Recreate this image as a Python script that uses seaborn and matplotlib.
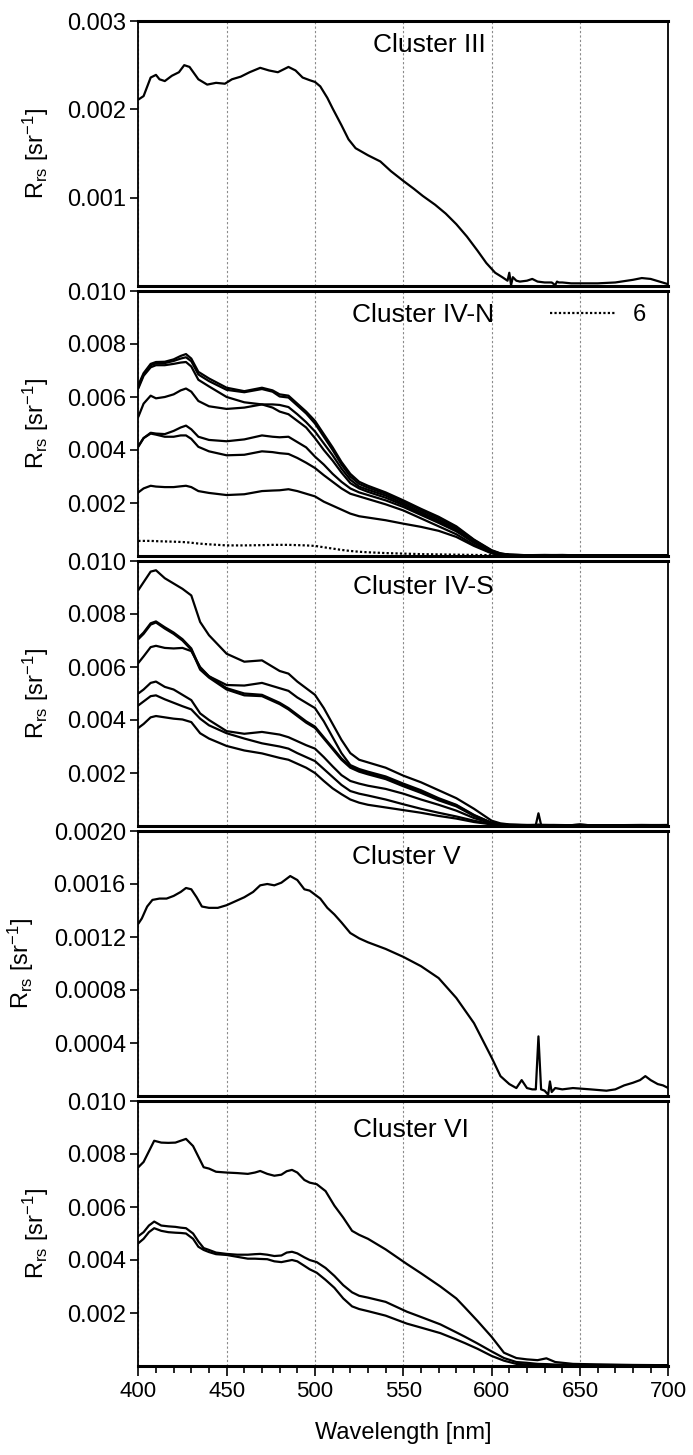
import numpy as np
import matplotlib
matplotlib.use('Agg')
import matplotlib.pyplot as plt
import seaborn as sns
from matplotlib.ticker import FormatStrFormatter, MultipleLocator

# Rrs values below are in units of 1e-3 sr^-1

# Cluster III
wl_3 = [400, 403, 407, 410, 412, 415, 419, 423, 426, 429, 434, 439, 444, 449, 453, 458, 463, 469, 474, 479,
        485, 489, 493, 497, 500, 503, 507, 510, 515, 519, 523, 530, 537, 543, 550, 556, 561, 568, 574, 580,
        586, 592, 597, 602, 606, 609, 610, 611, 612, 614, 616, 620, 623, 626, 630, 634, 636, 637, 638, 640,
        645, 650, 660, 670, 680, 685, 690, 695, 700]
rrs_3 = [2.11, 2.15, 2.36, 2.39, 2.34, 2.32, 2.38, 2.42, 2.50, 2.48, 2.34, 2.28, 2.30, 2.29, 2.34, 2.37, 2.42, 2.47, 2.44, 2.42,
         2.48, 2.44, 2.36, 2.33, 2.31, 2.26, 2.13, 2.01, 1.82, 1.66, 1.56, 1.48, 1.41, 1.30, 1.19, 1.10, 1.02, 0.92, 0.82, 0.70,
         0.56, 0.40, 0.26, 0.15, 0.10, 0.06, 0.15, 0.01, 0.10, 0.06, 0.05, 0.06, 0.08, 0.05, 0.04, 0.04, 0.01, 0.05, 0.04, 0.04,
         0.03, 0.03, 0.03, 0.04, 0.07, 0.09, 0.08, 0.05, 0.02]

# Cluster IV-N
wl_4n = [400, 403, 407, 410, 415, 420, 424, 427, 430, 434, 440, 450, 460, 470, 476, 480, 485, 490, 495, 500,
         505, 510, 515, 520, 525, 530, 540, 550, 560, 570, 580, 590, 600, 605, 610, 620, 630, 640, 650, 660,
         670, 680, 690, 700]
rrs_4n_a1 = [6.45, 6.9, 7.25, 7.32, 7.33, 7.42, 7.55, 7.62, 7.45, 6.95, 6.7, 6.35, 6.22, 6.35, 6.25, 6.1, 6.05, 5.75, 5.45, 5.1,
             4.6, 4.1, 3.55, 3.1, 2.8, 2.65, 2.4, 2.1, 1.78, 1.48, 1.12, 0.62, 0.22, 0.1, 0.05, 0.03, 0.04, 0.03, 0.02, 0.03,
             0.02, 0.03, 0.02, 0.02]
rrs_4n_a2 = [6.38, 6.85, 7.2, 7.27, 7.28, 7.36, 7.45, 7.5, 7.35, 6.85, 6.6, 6.27, 6.18, 6.3, 6.2, 6.02, 5.98, 5.68, 5.38, 5.0,
             4.5, 4.0, 3.45, 3.0, 2.72, 2.58, 2.35, 2.05, 1.73, 1.43, 1.08, 0.6, 0.2, 0.09, 0.05, 0.03, 0.03, 0.04, 0.02, 0.02,
             0.03, 0.02, 0.02, 0.02]
rrs_4n_a3 = [6.32, 6.8, 7.12, 7.2, 7.2, 7.25, 7.3, 7.32, 7.15, 6.65, 6.4, 6.0, 5.8, 5.72, 5.72, 5.7, 5.62, 5.35, 5.05, 4.7,
             4.25, 3.8, 3.3, 2.88, 2.62, 2.5, 2.28, 1.98, 1.66, 1.36, 1.02, 0.56, 0.18, 0.08, 0.04, 0.03, 0.02, 0.03, 0.02, 0.02,
             0.02, 0.02, 0.03, 0.02]
rrs_4n_b = [5.25, 5.75, 6.05, 5.95, 6.0, 6.1, 6.25, 6.32, 6.2, 5.85, 5.65, 5.55, 5.6, 5.72, 5.6, 5.45, 5.35, 5.1, 4.85, 4.45,
            4.0, 3.6, 3.15, 2.75, 2.55, 2.42, 2.2, 1.92, 1.6, 1.3, 0.98, 0.52, 0.17, 0.08, 0.04, 0.03, 0.02, 0.02, 0.03, 0.02,
            0.02, 0.02, 0.02, 0.02]
rrs_4n_c = [4.15, 4.45, 4.65, 4.62, 4.6, 4.72, 4.85, 4.92, 4.78, 4.5, 4.38, 4.33, 4.4, 4.55, 4.5, 4.48, 4.5, 4.3, 4.1, 3.75,
            3.45, 3.1, 2.8, 2.55, 2.4, 2.3, 2.1, 1.85, 1.55, 1.25, 0.93, 0.5, 0.15, 0.07, 0.04, 0.02, 0.03, 0.02, 0.02, 0.02,
            0.02, 0.03, 0.02, 0.02]
rrs_4n_d = [4.12, 4.45, 4.62, 4.58, 4.5, 4.5, 4.55, 4.55, 4.42, 4.12, 3.95, 3.8, 3.82, 3.95, 3.92, 3.88, 3.85, 3.7, 3.52, 3.32,
            3.05, 2.8, 2.55, 2.35, 2.25, 2.15, 1.95, 1.72, 1.42, 1.12, 0.82, 0.42, 0.12, 0.06, 0.03, 0.02, 0.02, 0.02, 0.02, 0.02,
            0.02, 0.02, 0.02, 0.02]
rrs_4n_e = [2.4, 2.55, 2.65, 2.62, 2.6, 2.6, 2.63, 2.65, 2.6, 2.45, 2.38, 2.3, 2.33, 2.45, 2.47, 2.48, 2.52, 2.45, 2.35, 2.25,
            2.05, 1.9, 1.75, 1.6, 1.5, 1.45, 1.35, 1.22, 1.1, 0.95, 0.72, 0.38, 0.1, 0.05, 0.03, 0.02, 0.02, 0.02, 0.02, 0.02,
            0.02, 0.02, 0.02, 0.02]
rrs_4n_st6 = [0.57, 0.57, 0.57, 0.56, 0.55, 0.54, 0.53, 0.52, 0.5, 0.47, 0.44, 0.4, 0.4, 0.41, 0.42, 0.42, 0.42, 0.41, 0.4, 0.38,
              0.33, 0.28, 0.23, 0.19, 0.16, 0.14, 0.11, 0.09, 0.07, 0.06, 0.05, 0.04, 0.03, 0.03, 0.03, 0.03, 0.03, 0.03, 0.03, 0.03,
              0.03, 0.03, 0.03, 0.03]

# Cluster IV-S
wl_4s = [400, 403, 407, 410, 415, 420, 425, 430, 435, 440, 450, 460, 470, 480, 485, 490, 495, 500, 505, 510,
         515, 520, 525, 530, 540, 550, 560, 570, 580, 590, 600, 605, 610, 620, 625, 626.5, 628, 635, 645, 650,
         655, 670, 685, 700]
rrs_4s_p = [8.9, 9.2, 9.6, 9.65, 9.35, 9.15, 8.95, 8.7, 7.7, 7.2, 6.5, 6.2, 6.25, 5.85, 5.75, 5.45, 5.2, 4.95, 4.45, 3.85,
            3.25, 2.75, 2.5, 2.4, 2.2, 1.9, 1.65, 1.35, 1.05, 0.65, 0.2, 0.1, 0.06, 0.04, 0.04, 0.05, 0.04, 0.04, 0.03, 0.06,
            0.03, 0.03, 0.04, 0.03]
rrs_4s_q1 = [7.1, 7.3, 7.65, 7.72, 7.5, 7.3, 7.05, 6.7, 5.95, 5.65, 5.2, 5.0, 4.95, 4.65, 4.45, 4.2, 3.95, 3.75, 3.35, 2.95,
             2.55, 2.25, 2.1, 2.0, 1.82, 1.55, 1.3, 1.0, 0.78, 0.4, 0.12, 0.06, 0.04, 0.03, 0.03, 0.04, 0.03, 0.03, 0.02, 0.03,
             0.02, 0.02, 0.03, 0.02]
rrs_4s_q2 = [7.05, 7.25, 7.6, 7.68, 7.45, 7.25, 7.0, 6.65, 5.9, 5.6, 5.15, 4.93, 4.9, 4.6, 4.4, 4.15, 3.9, 3.7, 3.3, 2.9,
             2.5, 2.2, 2.05, 1.95, 1.77, 1.5, 1.25, 0.97, 0.74, 0.38, 0.11, 0.05, 0.03, 0.03, 0.02, 0.03, 0.02, 0.02, 0.02, 0.02,
             0.02, 0.02, 0.02, 0.02]
rrs_4s_r = [6.15, 6.4, 6.75, 6.8, 6.72, 6.7, 6.72, 6.6, 6.0, 5.65, 5.32, 5.3, 5.4, 5.2, 5.1, 4.85, 4.65, 4.45, 3.95, 3.35,
            2.75, 2.3, 2.15, 2.05, 1.87, 1.6, 1.35, 1.05, 0.8, 0.42, 0.12, 0.06, 0.04, 0.03, 0.03, 0.03, 0.03, 0.02, 0.02, 0.02,
            0.02, 0.02, 0.02, 0.02]
rrs_4s_s = [5.0, 5.15, 5.4, 5.45, 5.25, 5.15, 4.95, 4.75, 4.25, 4.0, 3.58, 3.48, 3.55, 3.45, 3.35, 3.2, 3.05, 2.92, 2.6, 2.25,
            1.92, 1.7, 1.6, 1.52, 1.4, 1.22, 1.0, 0.8, 0.58, 0.3, 0.1, 0.05, 0.03, 0.03, 0.03, 0.03, 0.03, 0.02, 0.02, 0.02,
            0.02, 0.02, 0.02, 0.02]
rrs_4s_t = [4.55, 4.7, 4.9, 4.93, 4.78, 4.65, 4.52, 4.4, 4.05, 3.8, 3.5, 3.3, 3.12, 3.0, 2.92, 2.75, 2.6, 2.45, 2.15, 1.85,
            1.55, 1.32, 1.22, 1.15, 1.0, 0.82, 0.65, 0.5, 0.36, 0.2, 0.07, 0.04, 0.03, 0.03, 0.03, 0.03, 0.03, 0.02, 0.02, 0.02,
            0.02, 0.02, 0.02, 0.02]
rrs_4s_u = [3.7, 3.85, 4.1, 4.15, 4.1, 4.05, 4.02, 3.92, 3.5, 3.3, 3.02, 2.85, 2.74, 2.57, 2.5, 2.35, 2.2, 2.0, 1.7, 1.42,
            1.2, 1.0, 0.88, 0.8, 0.7, 0.6, 0.5, 0.38, 0.28, 0.15, 0.06, 0.04, 0.03, 0.03, 0.04, 0.48, 0.04, 0.03, 0.03, 0.05,
            0.03, 0.03, 0.03, 0.04]

# Cluster V
wl_5 = [400, 402, 405, 408, 412, 416, 420, 424, 427, 430, 433, 436, 440, 445, 450, 455, 460, 465, 469, 473,
        477, 481, 486, 490, 494, 497, 500, 503, 507, 511, 515, 520, 525, 530, 540, 550, 560, 570, 580, 590,
        600, 605, 610, 614, 617, 620, 623, 625, 626.5, 628, 630, 632, 633, 634, 636, 640, 646, 656, 665, 670,
        675, 680, 684, 687, 690, 694, 697, 700]
rrs_5 = [1.30, 1.34, 1.43, 1.48, 1.49, 1.49, 1.51, 1.54, 1.57, 1.56, 1.50, 1.43, 1.42, 1.42, 1.44, 1.47, 1.50, 1.54, 1.59, 1.60,
         1.59, 1.61, 1.66, 1.63, 1.56, 1.55, 1.52, 1.49, 1.42, 1.37, 1.31, 1.23, 1.19, 1.16, 1.11, 1.05, 0.98, 0.89, 0.74, 0.55,
         0.29, 0.15, 0.09, 0.06, 0.12, 0.06, 0.05, 0.05, 0.45, 0.05, 0.04, 0.01, 0.11, 0.03, 0.06, 0.05, 0.06, 0.05, 0.04, 0.05,
         0.08, 0.10, 0.12, 0.15, 0.12, 0.09, 0.08, 0.06]

# Cluster VI
wl_6 = [400, 403, 406, 409, 413, 417, 421, 424, 427, 431, 434, 437, 440, 444, 450, 456, 462, 466, 469, 473,
        477, 481, 484, 487, 490, 494, 497, 501, 506, 511, 516, 521, 525, 530, 540, 552, 560, 571, 580, 585,
        592, 600, 607, 614, 620, 626, 631, 636, 646, 660, 680, 700]
rrs_6_g = [7.5, 7.7, 8.1, 8.5, 8.43, 8.42, 8.43, 8.5, 8.57, 8.3, 7.9, 7.5, 7.45, 7.33, 7.3, 7.28, 7.25, 7.3, 7.36, 7.25,
           7.18, 7.22, 7.35, 7.4, 7.3, 7.02, 6.92, 6.86, 6.6, 6.05, 5.6, 5.1, 4.95, 4.8, 4.4, 3.85, 3.5, 3.0, 2.55, 2.2,
           1.7, 1.1, 0.5, 0.3, 0.25, 0.22, 0.29, 0.15, 0.08, 0.06, 0.04, 0.03]
rrs_6_h = [4.9, 5.05, 5.3, 5.45, 5.3, 5.27, 5.25, 5.22, 5.2, 5.0, 4.7, 4.45, 4.38, 4.28, 4.23, 4.2, 4.2, 4.22, 4.23, 4.2,
           4.15, 4.17, 4.28, 4.31, 4.25, 4.1, 4.0, 3.92, 3.7, 3.4, 3.05, 2.78, 2.65, 2.58, 2.42, 2.05, 1.85, 1.57, 1.27, 1.1,
           0.85, 0.55, 0.3, 0.15, 0.12, 0.08, 0.07, 0.05, 0.04, 0.04, 0.03, 0.03]
rrs_6_i = [4.63, 4.8, 5.05, 5.2, 5.1, 5.05, 5.03, 5.02, 5.0, 4.8, 4.5, 4.38, 4.3, 4.22, 4.19, 4.12, 4.05, 4.05, 4.04, 4.03,
           3.95, 3.92, 3.96, 4.0, 3.95, 3.78, 3.65, 3.52, 3.25, 2.95, 2.55, 2.25, 2.15, 2.07, 1.9, 1.6, 1.45, 1.24, 1.0, 0.86,
           0.65, 0.38, 0.2, 0.08, 0.06, 0.05, 0.05, 0.04, 0.04, 0.03, 0.03, 0.02]

titles = ['Cluster III', 'Cluster IV-N', 'Cluster IV-S', 'Cluster V', 'Cluster VI']
y_max = [0.003, 0.010, 0.010, 0.002, 0.010]
y_ticks = [[0.001, 0.002, 0.003],
           [0.002, 0.004, 0.006, 0.008, 0.010],
           [0.002, 0.004, 0.006, 0.008, 0.010],
           [0.0004, 0.0008, 0.0012, 0.0016, 0.0020],
           [0.002, 0.004, 0.006, 0.008, 0.010]]
y_fmt = ['%.3f', '%.3f', '%.3f', '%.4f', '%.3f']
x_ticks = [400, 450, 500, 550, 600, 650, 700]

panels = [
    (wl_3, [rrs_3]),
    (wl_4n, [rrs_4n_a1, rrs_4n_a2, rrs_4n_a3, rrs_4n_b, rrs_4n_c, rrs_4n_d, rrs_4n_e]),
    (wl_4s, [rrs_4s_p, rrs_4s_q1, rrs_4s_q2, rrs_4s_r, rrs_4s_s, rrs_4s_t, rrs_4s_u]),
    (wl_5, [rrs_5]),
    (wl_6, [rrs_6_g, rrs_6_h, rrs_6_i]),
]

sns.set_style('ticks')
plt.rcParams['font.family'] = ['Liberation Sans', 'DejaVu Sans']
plt.rcParams['mathtext.fontset'] = 'custom'
plt.rcParams['mathtext.rm'] = 'Liberation Sans'
plt.rcParams['mathtext.it'] = 'Liberation Sans:italic'
plt.rcParams['mathtext.bf'] = 'Liberation Sans:bold'
# plain black text like the original figure
plt.rcParams['text.color'] = 'black'
plt.rcParams['axes.labelcolor'] = 'black'
plt.rcParams['xtick.color'] = 'black'
plt.rcParams['ytick.color'] = 'black'
plt.rcParams['axes.edgecolor'] = 'black'

fig = plt.figure(figsize=(6.93, 14.55), dpi=100)
W, H = 693.0, 1455.0
left_px, width_px, height_px = 138.3, 530.0, 265.0
top_px = [21, 291, 561, 831, 1101]
title_pos = [(0.443, 0.91), (0.403, 0.91), (0.405, 0.90), (0.403, 0.90), (0.405, 0.89)]
ylab_x = [-0.165, -0.165, -0.165, -0.193, -0.165]

axes = []
for k in range(5):
    bottom = 1 - (top_px[k] + height_px) / H
    ax = fig.add_axes([left_px / W, bottom, width_px / W, height_px / H])
    axes.append(ax)
    wl, curves = panels[k]
    for c in curves:
        sns.lineplot(x=wl, y=np.array(c) * 1e-3, ax=ax, color='black', linewidth=1.6,
                     estimator=None, sort=False)
    if k == 1:
        sns.lineplot(x=wl_4n, y=np.array(rrs_4n_st6) * 1e-3, ax=ax, color='black', linewidth=1.6,
                     linestyle=(0, (1, 1)), estimator=None, sort=False, label='6')
        ax.legend(loc='center left', bbox_to_anchor=(0.777, 0.91), frameon=False, fontsize=17,
                  handlelength=2.8, handletextpad=0.7, borderpad=0, borderaxespad=0)

    ax.set_xlim(400, 700)
    ax.set_ylim(0, y_max[k])
    ax.set_yticks(y_ticks[k])
    ax.yaxis.set_major_formatter(FormatStrFormatter(y_fmt[k]))
    ax.set_xticks(x_ticks)
    ax.grid(axis='x', color='#8a8a8a', linestyle=(0, (2, 2)), linewidth=0.8)
    ax.grid(axis='y', visible=False)
    for side in ['top', 'bottom']:
        ax.spines[side].set_linewidth(2.2)
    for side in ['left', 'right']:
        ax.spines[side].set_linewidth(1.3)
    ax.tick_params(axis='y', direction='out', length=6, width=1.2, labelsize=17, pad=3)
    ax.set_ylabel(r'R$_{\mathrm{rs}}$ [sr$^{\mathrm{-1}}$]', fontsize=17)
    ax.yaxis.set_label_coords(ylab_x[k], 0.5)
    ax.text(title_pos[k][0], title_pos[k][1], titles[k], transform=ax.transAxes,
            fontsize=19, ha='left', va='center')
    if k < 4:
        ax.tick_params(axis='x', bottom=False, labelbottom=False)
        ax.set_xlabel('')
    else:
        ax.xaxis.set_minor_locator(MultipleLocator(10))
        ax.tick_params(axis='x', which='major', direction='out', length=7, width=1.2,
                       labelsize=16, pad=4)
        ax.tick_params(axis='x', which='minor', direction='out', length=5, width=1.2)
        ax.set_xlabel('Wavelength [nm]', fontsize=17)
        ax.xaxis.set_label_coords(0.5, -0.21)

fig.savefig('out.png', dpi=100)
